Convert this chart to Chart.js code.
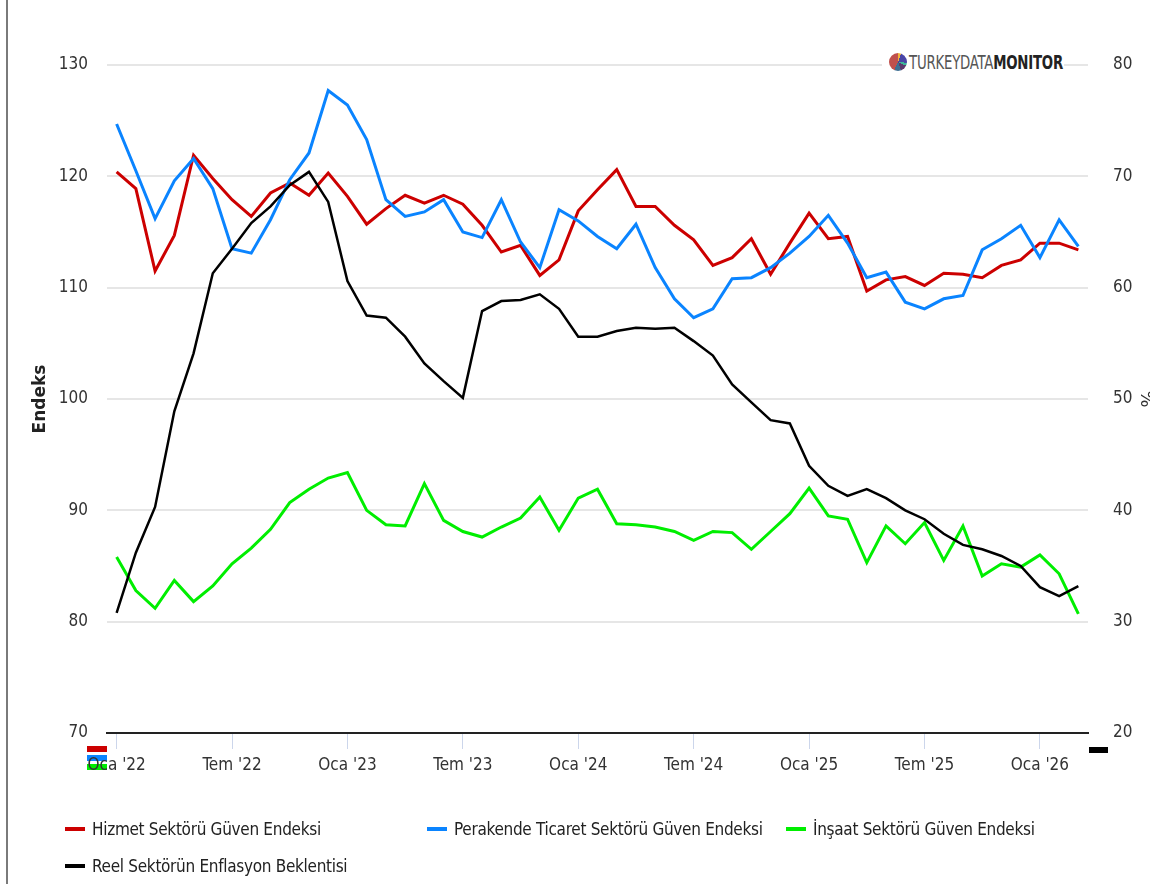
<!DOCTYPE html>
<html lang="tr">
<head>
<meta charset="utf-8">
<title>Güven Endeksleri ve Enflasyon Beklentisi</title>
<script src="https://cdn.jsdelivr.net/npm/chart.js@4.4.1/dist/chart.umd.min.js"></script>
<style>
    html, body { margin: 0; padding: 0; background: #fff; }
    body { width: 1150px; height: 884px; position: relative; overflow: hidden; font-family: 'Liberation Sans Narrow', 'DejaVu Sans Condensed', sans-serif; }
    #frame { position: absolute; left: 6px; top: 0; width: 2px; height: 884px; background: #7a7a7a; }
    #chart { position: absolute; left: 0; top: 0; }
    .logo { position: absolute; left: 882px; top: 50px; width: 182px; height: 24px; background: #fff; }
    .pie { position: absolute; left: 7px; top: 3px; width: 18px; height: 18px; border-radius: 50%;
        background: conic-gradient(#f0b43c 0 20deg, #4a45a6 20deg 95deg, #3cb49a 95deg 115deg, #5b3a6e 115deg 160deg, #3f6f93 160deg 205deg, #c0504d 205deg 360deg); }
    .logo .txt { position: absolute; left: 27px; top: 0; font-size: 20px; line-height: 24px; white-space: nowrap; transform: scaleX(0.74); transform-origin: left center; letter-spacing: -0.3px; }
    .logo .t1 { color: #555; }
    .logo .t2 { color: #222; font-weight: bold; }
    .legend { position: absolute; left: 65px; top: 815px; display: grid; grid-template-columns: 362px 359px 300px; row-gap: 9px; }
    .item { display: flex; align-items: center; height: 28px; font-size: 17px; letter-spacing: -0.3px; color: #222; white-space: nowrap; }
    .item i { display: inline-block; width: 20px; height: 4px; margin-right: 7px; }
</style>
</head>
<body>
<div id="frame"></div>
<canvas id="chart" width="1150" height="884"></canvas>
<div class="logo"><div class="pie"></div><div class="txt"><span class="t1">TURKEYDATA</span><span class="t2">MONITOR</span></div></div>
<div class="legend" id="legend"></div>

<script>
// Months and years on the x axis
const MONTHS = ['Oca', 'Şub', 'Mar', 'Nis', 'May', 'Haz', 'Tem', 'Ağu', 'Eyl', 'Eki', 'Kas', 'Ara'];
const YEARS = ['22', '23', '24', '25', '26'];
const N_POINTS = 51; // Oca '22 .. Mar '26

// Series values (left axis, Endeks)
const hizmet = [120.4, 118.9, 111.5, 114.7, 121.9, 119.8, 117.9, 116.4, 118.5, 119.4, 118.3, 120.3,
    118.2, 115.7, 117.1, 118.3, 117.6, 118.3, 117.5, 115.6, 113.2, 113.8, 111.1, 112.5,
    116.9, 118.8, 120.6, 117.3, 117.3, 115.6, 114.3, 112.0, 112.7, 114.4, 111.2, 114.0,
    116.7, 114.4, 114.6, 109.7, 110.7, 111.0, 110.2, 111.3, 111.2, 110.9, 112.0, 112.5,
    114.0, 114.0, 113.4];
const perakende = [124.7, 120.5, 116.2, 119.6, 121.6, 118.9, 113.5, 113.1, 116.1, 119.7, 122.1, 127.7,
    126.4, 123.3, 117.9, 116.4, 116.8, 117.9, 115.0, 114.5, 117.9, 114.1, 111.8, 117.0,
    116.0, 114.6, 113.5, 115.7, 111.8, 109.0, 107.3, 108.1, 110.8, 110.9, 111.8, 113.1,
    114.6, 116.5, 114.0, 110.9, 111.4, 108.7, 108.1, 109.0, 109.3, 113.4, 114.4, 115.6,
    112.7, 116.1, 113.7];
const insaat = [85.8, 82.8, 81.2, 83.7, 81.8, 83.2, 85.2, 86.6, 88.3, 90.7, 91.9, 92.9,
    93.4, 90.0, 88.7, 88.6, 92.4, 89.1, 88.1, 87.6, 88.5, 89.3, 91.2, 88.2,
    91.1, 91.9, 88.8, 88.7, 88.5, 88.1, 87.3, 88.1, 88.0, 86.5, 88.1, 89.7,
    92.0, 89.5, 89.2, 85.3, 88.6, 87.0, 88.9, 85.5, 88.6, 84.1, 85.2, 84.9,
    86.0, 84.3, 80.7];
// Right axis (%)
const enflasyon = [30.8, 36.2, 40.3, 48.9, 54.1, 61.3, 63.5, 65.8, 67.3, 69.2, 70.4, 67.7,
    60.6, 57.5, 57.3, 55.6, 53.2, 51.6, 50.1, 57.9, 58.8, 58.9, 59.4, 58.1,
    55.6, 55.6, 56.1, 56.4, 56.3, 56.4, 55.2, 53.9, 51.3, 49.7, 48.1, 47.8,
    44.0, 42.2, 41.3, 41.9, 41.1, 40.0, 39.2, 37.9, 36.9, 36.5, 35.9, 35.0,
    33.1, 32.3, 33.2];

const SERIES_NAMES = ['Hizmet Sektörü Güven Endeksi', 'Perakende Ticaret Sektörü Güven Endeksi',
    'İnşaat Sektörü Güven Endeksi', 'Reel Sektörün Enflasyon Beklentisi'];
const SERIES_COLORS = ['#cc0000', '#0a84ff', '#00ee00', '#000000'];

const labels = [];
YEARS.forEach(y => MONTHS.forEach(m => labels.push(m + " '" + y)));
labels.length = N_POINTS;

const tickFont = { family: "'Liberation Sans Narrow', 'DejaVu Sans Condensed', sans-serif", size: 17 };

// small colored swatches under the axis ends (as in the source screenshot)
const swatches = {
    id: 'swatches',
    beforeDraw(chart) {
        const { ctx, chartArea } = chart;
        ctx.save();
        [['#cc0000', 13], ['#0a84ff', 22], ['#00ee00', 31]].forEach(([c, dy]) => {
            ctx.fillStyle = c;
            ctx.fillRect(chartArea.left - 20, chartArea.bottom + dy, 20, 6);
        });
        ctx.fillStyle = '#000';
        ctx.fillRect(chartArea.right + 1, chartArea.bottom + 14, 19, 6);
        ctx.restore();
    }
};

const datasets = [hizmet, perakende, insaat, enflasyon].map((values, i) => ({
    label: SERIES_NAMES[i],
    data: values,
    borderColor: SERIES_COLORS[i],
    backgroundColor: SERIES_COLORS[i],
    borderWidth: i === 3 ? 2.5 : 3,
    pointRadius: 0,
    tension: 0,
    yAxisID: i === 3 ? 'y1' : 'y',
    order: 3 - i
}));

new Chart(document.getElementById('chart'), {
    type: 'line',
    data: { labels, datasets },
    plugins: [swatches],
    options: {
        responsive: false,
        animation: false,
        layout: { padding: { top: 65, left: 0, right: 0, bottom: 0 } },
        plugins: { legend: { display: false }, tooltip: { enabled: false } },
        scales: {
            x: {
                type: 'category',
                offset: true,
                afterFit: s => { s.height = 151; },
                border: { color: '#222', width: 2 },
                grid: {
                    offset: false,
                    drawOnChartArea: false,
                    drawTicks: true,
                    tickLength: 16,
                    tickColor: c => (c.index % 6 === 0 ? '#ccd6eb' : 'rgba(0,0,0,0)')
                },
                ticks: {
                    autoSkip: false,
                    maxRotation: 0,
                    padding: 6,
                    color: '#333',
                    font: tickFont,
                    callback: (v, i) => (i % 6 === 0 ? labels[i] : '')
                }
            },
            y: {
                position: 'left',
                min: 70,
                max: 130,
                afterFit: s => { s.width = 107; },
                border: { display: false },
                grid: { color: '#e6e6e6', lineWidth: 2, drawTicks: false },
                ticks: { stepSize: 10, padding: 19, color: '#333', font: tickFont },
                title: {
                    display: true,
                    text: 'Endeks',
                    color: '#222',
                    font: { family: "'DejaVu Sans', sans-serif", size: 17, weight: 'bold' },
                    padding: { top: 30, bottom: 0 }
                }
            },
            y1: {
                position: 'right',
                min: 20,
                max: 80,
                afterFit: s => { s.width = 62; },
                border: { display: false },
                grid: { display: false },
                ticks: { stepSize: 10, padding: 17, color: '#333', font: tickFont },
                title: {
                    display: true,
                    text: '%',
                    color: '#333',
                    font: { family: "'DejaVu Sans', sans-serif", size: 18, lineHeight: 0.5 },
                    padding: { top: 0, bottom: 0 }
                }
            }
        }
    }
});

// legend
const legendEl = document.getElementById('legend');
SERIES_NAMES.forEach((name, i) => {
    const item = document.createElement('div');
    item.className = 'item';
    item.innerHTML = '<i style="background:' + SERIES_COLORS[i] + '"></i>' + name;
    legendEl.appendChild(item);
});
</script>
</body>
</html>
